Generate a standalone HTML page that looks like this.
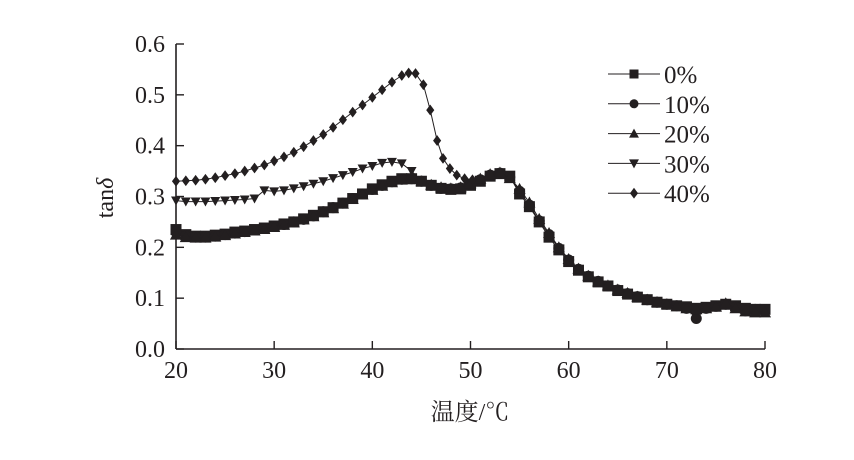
<!DOCTYPE html>
<html><head><meta charset="utf-8"><style>
html,body{margin:0;padding:0;background:#fff;}
svg text{font-family:"Liberation Serif","Noto Serif CJK SC",serif;fill:#231f20;}
</style></head><body>
<svg id="chart" width="854" height="455" viewBox="0 0 854 455" xmlns="http://www.w3.org/2000/svg">
<g id="axes"></g>
<g id="series"></g>
<g id="legend"></g>
</svg>
<script>
const xTicks=[20,30,40,50,60,70,80];
const yTicks=[0.0,0.1,0.2,0.3,0.4,0.5,0.6];
const seriesNames=["0%","10%","20%","30%","40%"];
const tBase=[20,21,22,23,24,25,26,27,28,29,30,31,32,33,34,35,36,37,38,39,40,41,42,43,44,45,46,47,48,49,50,51,52,53,54,55,56,57,58,59,60,61,62,63,64,65,66,67,68,69,70,71,72,73,74,75,76,77,78,79,80];
const v0=[0.235,0.225,0.222,0.222,0.224,0.226,0.23,0.232,0.235,0.238,0.242,0.246,0.25,0.256,0.263,0.27,0.278,0.287,0.296,0.305,0.315,0.323,0.33,0.335,0.335,0.33,0.322,0.316,0.314,0.315,0.322,0.33,0.34,0.345,0.34,0.305,0.28,0.25,0.22,0.195,0.172,0.155,0.142,0.132,0.124,0.115,0.108,0.102,0.097,0.092,0.088,0.085,0.083,0.08,0.082,0.085,0.088,0.085,0.08,0.078,0.078];
const v10=[0.23,0.222,0.22,0.22,0.222,0.225,0.228,0.231,0.234,0.237,0.241,0.245,0.25,0.255,0.262,0.27,0.278,0.287,0.296,0.305,0.314,0.322,0.329,0.334,0.335,0.33,0.322,0.316,0.315,0.317,0.324,0.333,0.342,0.346,0.338,0.31,0.283,0.252,0.225,0.198,0.175,0.157,0.143,0.133,0.124,0.116,0.109,0.103,0.097,0.092,0.088,0.085,0.08,0.06,0.08,0.084,0.088,0.082,0.075,0.078,0.077];
const v20=[0.225,0.22,0.219,0.219,0.221,0.224,0.227,0.23,0.233,0.236,0.24,0.244,0.249,0.255,0.261,0.269,0.277,0.286,0.295,0.304,0.313,0.321,0.328,0.333,0.334,0.33,0.323,0.318,0.316,0.318,0.326,0.335,0.344,0.347,0.336,0.315,0.288,0.256,0.228,0.2,0.177,0.158,0.144,0.133,0.125,0.117,0.11,0.103,0.097,0.092,0.088,0.084,0.08,0.078,0.08,0.083,0.09,0.08,0.074,0.072,0.072];
const t30=[20,21,22,23,24,25,26,27,28,29,30,31,32,33,34,35,36,37,38,39,40,41,42,43,44,45];
const v30=[0.292,0.29,0.29,0.29,0.291,0.292,0.293,0.294,0.296,0.312,0.31,0.312,0.316,0.32,0.325,0.33,0.336,0.342,0.348,0.355,0.36,0.366,0.368,0.365,0.35,0.33];
const t40=[20,21,22,23,24,25,26,27,28,29,30,31,32,33,34,35,36,37,38,39,40,41,42,43,43.7,44.4,45.2,45.9,46.6,47.2,47.9,48.6,49.4,50.2];
const v40=[0.33,0.331,0.332,0.334,0.337,0.341,0.345,0.35,0.356,0.362,0.37,0.378,0.387,0.398,0.41,0.422,0.436,0.451,0.466,0.48,0.495,0.51,0.525,0.538,0.543,0.542,0.52,0.47,0.41,0.375,0.355,0.342,0.335,0.333];
const allT=[tBase,tBase,tBase,t30,t40];
const allV=[v0,v10,v20,v30,v40];
const shapes=["square","circle","up","down","diamond"];
const NS="http://www.w3.org/2000/svg";
const X0=176,X1=765,Y0=349,Y1=44;
function xs(t){return X0+(t-20)/(80-20)*(X1-X0);}
function ys(v){return Y0-(v-0)/(0.6-0)*(Y0-Y1);}
function mk(tag,attrs,parent){const e=document.createElementNS(NS,tag);for(const k in attrs)e.setAttribute(k,attrs[k]);parent.appendChild(e);return e;}
function marker(shape,x,y,s,parent){
  let e;
  if(shape==="square")e=mk("rect",{x:x-s/2,y:y-s/2,width:s,height:s,fill:"#231f20"},parent);
  else if(shape==="circle")e=mk("circle",{cx:x,cy:y,r:s/2,fill:"#231f20"},parent);
  else if(shape==="up")e=mk("polygon",{points:`${x},${y-s*0.55} ${x-s*0.55},${y+s*0.45} ${x+s*0.55},${y+s*0.45}`,fill:"#231f20"},parent);
  else if(shape==="down")e=mk("polygon",{points:`${x},${y+s*0.55} ${x-s*0.55},${y-s*0.45} ${x+s*0.55},${y-s*0.45}`,fill:"#231f20"},parent);
  else e=mk("polygon",{points:`${x},${y-s*0.6} ${x+s*0.45},${y} ${x},${y+s*0.6} ${x-s*0.45},${y}`,fill:"#231f20"},parent);
  return e;
}
const axes=document.getElementById("axes");
let a=mk("line",{x1:X0,y1:Y1,x2:X0,y2:Y0,stroke:"#231f20","stroke-width":1.6},axes);


a=mk("line",{x1:X0,y1:Y0,x2:X1,y2:Y0,stroke:"#231f20","stroke-width":1.6},axes);


xTicks.forEach(t=>{
  const l=mk("line",{x1:xs(t),y1:Y0,x2:xs(t),y2:Y0-8,stroke:"#231f20","stroke-width":1.4},axes);
  
  
  const tx=mk("text",{x:xs(t),y:Y0+29,"text-anchor":"middle","font-size":24},axes);
  tx.textContent=t;
  
  
});
yTicks.forEach(v=>{
  const l=mk("line",{x1:X0,y1:ys(v),x2:X0+8,y2:ys(v),stroke:"#231f20","stroke-width":1.4},axes);
  
  
  const tx=mk("text",{x:X0-11,y:ys(v)+8,"text-anchor":"end","font-size":24},axes);
  tx.textContent=v.toFixed(1);
  
  
});
let tt=mk("text",{x:470,y:420,"text-anchor":"middle","font-size":24},axes);
tt.textContent="温度/℃";


tt=mk("text",{x:0,y:0,"text-anchor":"middle","font-size":24,transform:"translate(113,198) rotate(-90)"},axes);
tt.innerHTML='tan<tspan font-style="italic">δ</tspan>';


const sg=document.getElementById("series");
allT.forEach((ts,i)=>{
  const g=mk("g",{},sg);
  
  
  const pts=ts.map((t,j)=>xs(t)+","+ys(allV[i][j])).join(" ");
  const pl=mk("polyline",{points:pts,fill:"none",stroke:"#231f20","stroke-width":1},g);
  
  
  ts.forEach((t,j)=>{
    const m=marker(shapes[i],xs(t),ys(allV[i][j]),i<3?11:9,g);
    
    
  });
});
const lg=document.getElementById("legend");
seriesNames.forEach((n,i)=>{
  const y=74+i*29.8;
  const g=mk("g",{},lg);
  
  
  mk("line",{x1:608,y1:y,x2:660,y2:y,stroke:"#231f20","stroke-width":1},g);
  marker(shapes[i],634,y,9,g);
  const tx=mk("text",{x:664,y:y+9,"font-size":25},g);
  tx.textContent=n;
});
</script>
</body></html>
